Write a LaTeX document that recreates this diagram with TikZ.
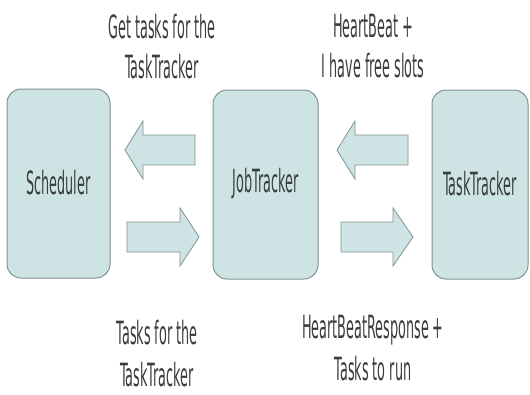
\documentclass[tikz,border=0pt]{standalone}
\usepackage{fontspec}
\newfontfamily\lab[FakeStretch=0.40]{DejaVu Sans}
\definecolor{boxfill}{RGB}{206,228,228}
\definecolor{boxline}{RGB}{130,146,146}
\definecolor{txt}{RGB}{58,62,62}
\begin{document}
\begin{tikzpicture}[x=1pt,y=-1pt,
  block/.style={draw=boxline,fill=boxfill,line width=1pt,rounded corners=14pt},
  barrow/.style={draw=boxline,fill=boxfill,line width=0.8pt},
  boxlabel/.style={font=\lab\fontsize{32}{40}\selectfont,text=txt,inner sep=0pt},
  msg/.style={font=\lab\fontsize{32}{40}\selectfont,text=txt,inner sep=0pt,align=center,anchor=north},
  msgb/.style={msg,font=\lab\fontsize{32}{42}\selectfont}]
\useasboundingbox (0,0) rectangle (530,394);
\fill[white] (0,0) rectangle (530,394);
% boxes
\draw[block] (7,89) rectangle (110,278);
\draw[block] (213,90) rectangle (318,279);
\draw[block] (432,90) rectangle (528,279);
\node[boxlabel] (sched) at (58.5,183) {Scheduler};
\node[boxlabel] (jt) at (265.5,184) {JobTracker};
\node[boxlabel] (tt) at (480,184) {TaskTracker};
% block arrows
\draw[barrow] (195,135) -- (143,135) -- (143,121) -- (125,150) -- (143,179) -- (143,165) -- (195,165) -- cycle;
\draw[barrow] (127,222) -- (180,222) -- (180,208) -- (199,237) -- (180,266) -- (180,252) -- (127,252) -- cycle;
\draw[barrow] (408,135) -- (355,135) -- (355,121) -- (337,150) -- (355,179) -- (355,165) -- (408,165) -- cycle;
\draw[barrow] (341,222) -- (393,222) -- (393,208) -- (413,237) -- (393,266) -- (393,252) -- (341,252) -- cycle;
% messages
\node[msg] (m1) at (162,14) {Get tasks for the\\TaskTracker};
\node[msg] (m2) at (373,14) {HeartBeat +\\I have free slots};
\node[msgb] (m3) at (157,320) {Tasks for the\\TaskTracker};
\node[msgb] (m4) at (373,315) {HeartBeatResponse +\\Tasks to run};
\end{tikzpicture}
\end{document}
